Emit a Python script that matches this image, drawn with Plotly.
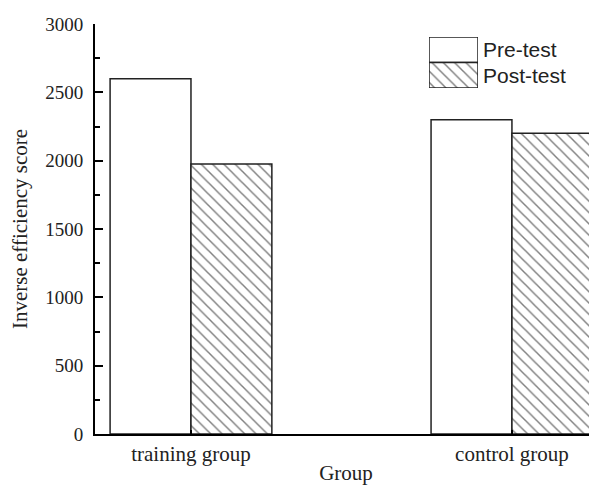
import plotly.graph_objects as go

groups = ["training group", "control group"]
pre_test = [2600, 2300]
post_test = [1975, 2200]
series_names = ["Pre-test", "Post-test"]
y_ticks = [0, 500, 1000, 1500, 2000, 2500, 3000]

# page is rendered with an 8px body margin; size the figure to fit the window
OFF = 8
W, H = 597 - OFF, 486 - OFF
ml, mr, mt, mb = 95 - OFF, 0, 24 - OFF, H - (434 - OFF)
pw, ph = W - ml - mr, H - mt - mb

def px_x(p):
    return (p - OFF - ml) / pw

def px_y(p):
    return (H - mb - (p - OFF)) / ph

bar_w = 0.252
line_col = "#222222"
serif = "Liberation Serif, Times New Roman, serif"
sans = "Liberation Sans, Arial, sans-serif"
hatch = dict(shape="\\", size=8, solidity=0.18, fgcolor="#000000", bgcolor="white")

fig = go.Figure()
fig.add_trace(go.Bar(
    x=groups, y=pre_test, name=series_names[0], width=bar_w, offset=-bar_w,
    marker=dict(color="white", line=dict(color=line_col, width=1.5)),
    showlegend=False,
))
fig.add_trace(go.Bar(
    x=groups, y=post_test, name=series_names[1], width=bar_w, offset=0,
    marker=dict(color="white", line=dict(color=line_col, width=1.5), pattern=hatch),
    showlegend=False,
))

# legend swatches drawn as bars on a small inset axis
fig.add_trace(go.Bar(
    x=[1], y=[series_names[0]], orientation="h", width=1,
    xaxis="x2", yaxis="y2", showlegend=False, hoverinfo="skip",
    marker=dict(color="white", line=dict(color=line_col, width=1.5)),
))
fig.add_trace(go.Bar(
    x=[1], y=[series_names[1]], orientation="h", width=1,
    xaxis="x2", yaxis="y2", showlegend=False, hoverinfo="skip",
    marker=dict(color="white", line=dict(color=line_col, width=1.5), pattern=hatch),
))

fig.update_layout(
    width=W, height=H,
    margin=dict(l=ml, r=mr, t=mt, b=mb, pad=0, autoexpand=False),
    paper_bgcolor="white", plot_bgcolor="white",
    barmode="overlay",
    showlegend=False,
    xaxis=dict(
        type="category", range=[-0.299, 1.265],
        domain=[0, 1], automargin=False,
        showline=True, linecolor="black", linewidth=2,
        ticks="inside", ticklen=4, tickwidth=1.5, tickcolor="black",
        showgrid=False, zeroline=False,
        tickfont=dict(family=serif, size=21, color=line_col),
        ticklabelstandoff=0,
        title=dict(text="Group", font=dict(family=serif, size=21, color=line_col), standoff=0),
    ),
    yaxis=dict(
        range=[0, 3000], tickvals=y_ticks, automargin=False,
        showline=True, linecolor="black", linewidth=2,
        ticks="inside", ticklen=8, tickwidth=2, tickcolor="black",
        minor=dict(dtick=250, ticks="inside", ticklen=5, tickwidth=2, tickcolor="black", showgrid=False),
        showgrid=False, zeroline=False,
        tickfont=dict(family=serif, size=19, color=line_col),
        ticklabelstandoff=6,
        title=dict(text="Inverse efficiency score", font=dict(family=serif, size=21, color=line_col), standoff=17),
    ),
    xaxis2=dict(
        domain=[px_x(429), px_x(478)], anchor="y2", range=[0, 1],
        visible=False, fixedrange=True, automargin=False,
    ),
    yaxis2=dict(
        domain=[px_y(88), px_y(37)], anchor="x2", side="right",
        type="category", categoryorder="array",
        categoryarray=[series_names[1], series_names[0]],
        range=[-0.5, 1.5], automargin=False,
        showline=False, showgrid=False, zeroline=False, ticks="",
        tickfont=dict(family=sans, size=21, color=line_col),
        ticklabelstandoff=4, fixedrange=True,
    ),
)

fig.write_html("out.html")
